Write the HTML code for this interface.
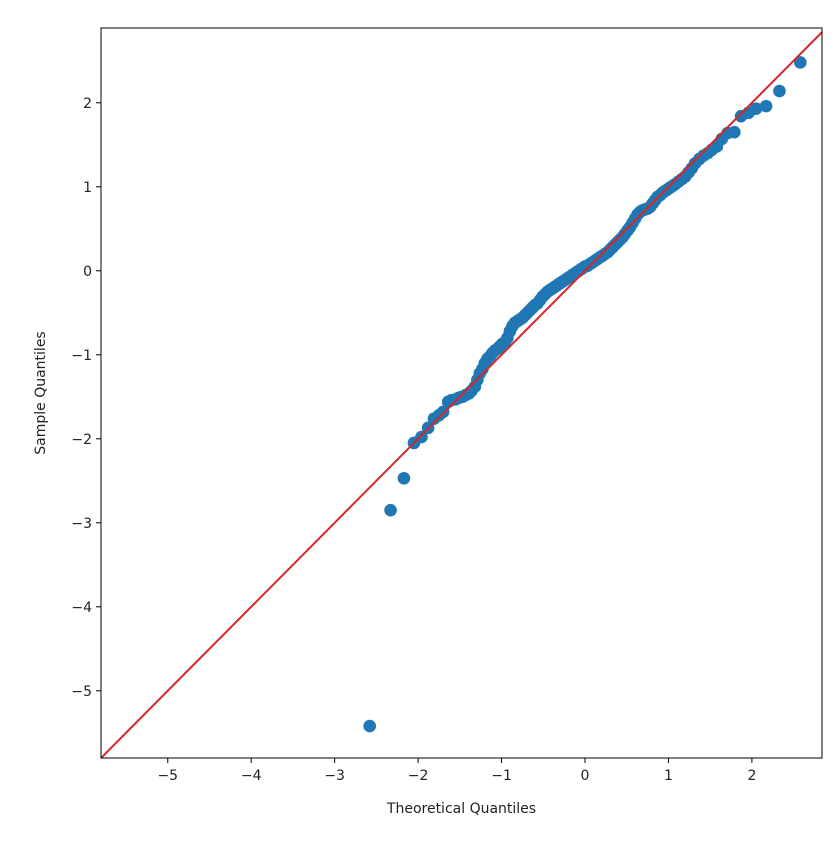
<!DOCTYPE html>
<html><head><meta charset="utf-8"><style>
body{margin:0;background:#fff;}
svg text{font-family:"DejaVu Sans","Liberation Sans",sans-serif;font-size:14px;fill:#222;}
</style></head><body>
<svg id="chart" width="840" height="842" xmlns="http://www.w3.org/2000/svg">
<rect width="840" height="842" fill="#fff"/>
<g id="plot"></g>
</svg>
<script>
const theoretical=[-2.58,-2.33,-2.17,-2.05,-1.96,-1.88,-1.81,-1.75,-1.70,-1.64,-1.60,-1.55,-1.51,-1.47,-1.43,-1.39,-1.36,-1.32,-1.29,-1.26,-1.23,-1.20,-1.17,-1.14,-1.11,-1.08,-1.05,-1.02,-0.99,-0.96,-0.93,-0.90,-0.87,-0.84,-0.81,-0.78,-0.75,-0.72,-0.69,-0.66,-0.63,-0.60,-0.57,-0.54,-0.51,-0.48,-0.45,-0.42,-0.39,-0.36,-0.33,-0.30,-0.27,-0.24,-0.21,-0.18,-0.15,-0.12,-0.09,-0.06,-0.03,0,0.03,0.06,0.09,0.12,0.15,0.18,0.21,0.24,0.27,0.30,0.33,0.36,0.39,0.42,0.45,0.48,0.51,0.54,0.57,0.60,0.63,0.66,0.69,0.72,0.75,0.78,0.81,0.84,0.87,0.90,0.93,0.96,0.99,1.02,1.05,1.08,1.12,1.16,1.20,1.24,1.28,1.32,1.37,1.42,1.47,1.52,1.58,1.64,1.71,1.79,1.87,1.96,2.05,2.17,2.33,2.58];
const sample=[-5.42,-2.85,-2.47,-2.05,-1.98,-1.87,-1.76,-1.72,-1.68,-1.56,-1.54,-1.53,-1.51,-1.50,-1.48,-1.46,-1.43,-1.38,-1.30,-1.22,-1.17,-1.10,-1.05,-1.02,-0.98,-0.95,-0.93,-0.90,-0.87,-0.85,-0.80,-0.72,-0.66,-0.62,-0.60,-0.58,-0.56,-0.53,-0.50,-0.47,-0.44,-0.41,-0.39,-0.35,-0.31,-0.28,-0.25,-0.23,-0.21,-0.19,-0.17,-0.15,-0.13,-0.11,-0.09,-0.07,-0.05,-0.03,-0.01,0.01,0.03,0.05,0.06,0.08,0.10,0.12,0.14,0.16,0.18,0.20,0.22,0.25,0.28,0.31,0.34,0.37,0.40,0.44,0.48,0.52,0.57,0.62,0.67,0.70,0.72,0.73,0.74,0.76,0.80,0.84,0.88,0.90,0.93,0.95,0.97,0.99,1.01,1.03,1.06,1.09,1.12,1.17,1.22,1.28,1.33,1.37,1.40,1.44,1.48,1.57,1.64,1.65,1.84,1.88,1.93,1.96,2.14,2.48];
const xTicks=[-5,-4,-3,-2,-1,0,1,2];
const yTicks=[2,1,0,-1,-2,-3,-4,-5];
const xDomain=[-5.8,2.84], yDomain=[-5.8,2.89];
const L=101,R=822,T=28,B=758;
const sx=v=>L+(v-xDomain[0])/(xDomain[1]-xDomain[0])*(R-L);
const sy=v=>B-(v-yDomain[0])/(yDomain[1]-yDomain[0])*(B-T);
const NS="http://www.w3.org/2000/svg";
const g=document.getElementById('plot');
function mk(t,a){const e=document.createElementNS(NS,t);for(const k in a)e.setAttribute(k,a[k]);g.appendChild(e);return e;}
const clip=mk('clipPath',{id:'clp'});
const cr=document.createElementNS(NS,'rect');cr.setAttribute('x',L);cr.setAttribute('y',T);cr.setAttribute('width',R-L);cr.setAttribute('height',B-T);clip.appendChild(cr);
theoretical.forEach((t,i)=>{
const c=mk('circle',{cx:sx(t),cy:sy(sample[i]),r:6.3,fill:'#1f77b4'});


});
const ln=mk('line',{x1:sx(-6),y1:sy(-6),x2:sx(3),y2:sy(3),stroke:'#d62728','stroke-width':2,'clip-path':'url(#clp)'});


const fr=mk('rect',{x:L,y:T,width:R-L,height:B-T,fill:'none',stroke:'#000','stroke-width':1});


xTicks.forEach(v=>{
const tk=mk('line',{x1:sx(v),y1:B,x2:sx(v),y2:B+5,stroke:'#000'});


const tx=mk('text',{x:sx(v),y:B+22,'text-anchor':'middle'});
tx.textContent=(v<0?'\u2212'+(-v):v);


});
yTicks.forEach(v=>{
const tk=mk('line',{x1:L-5,y1:sy(v),x2:L,y2:sy(v),stroke:'#000'});


const tx=mk('text',{x:L-9,y:sy(v)+5,'text-anchor':'end'});
tx.textContent=(v<0?'\u2212'+(-v):v);


});
const xt=mk('text',{x:(L+R)/2,y:B+55,'text-anchor':'middle'});
xt.textContent='Theoretical Quantiles';


const yt=mk('text',{x:0,y:0,'text-anchor':'middle',transform:`translate(45,${(T+B)/2}) rotate(-90)`});
yt.textContent='Sample Quantiles';


</script>
</body></html>
